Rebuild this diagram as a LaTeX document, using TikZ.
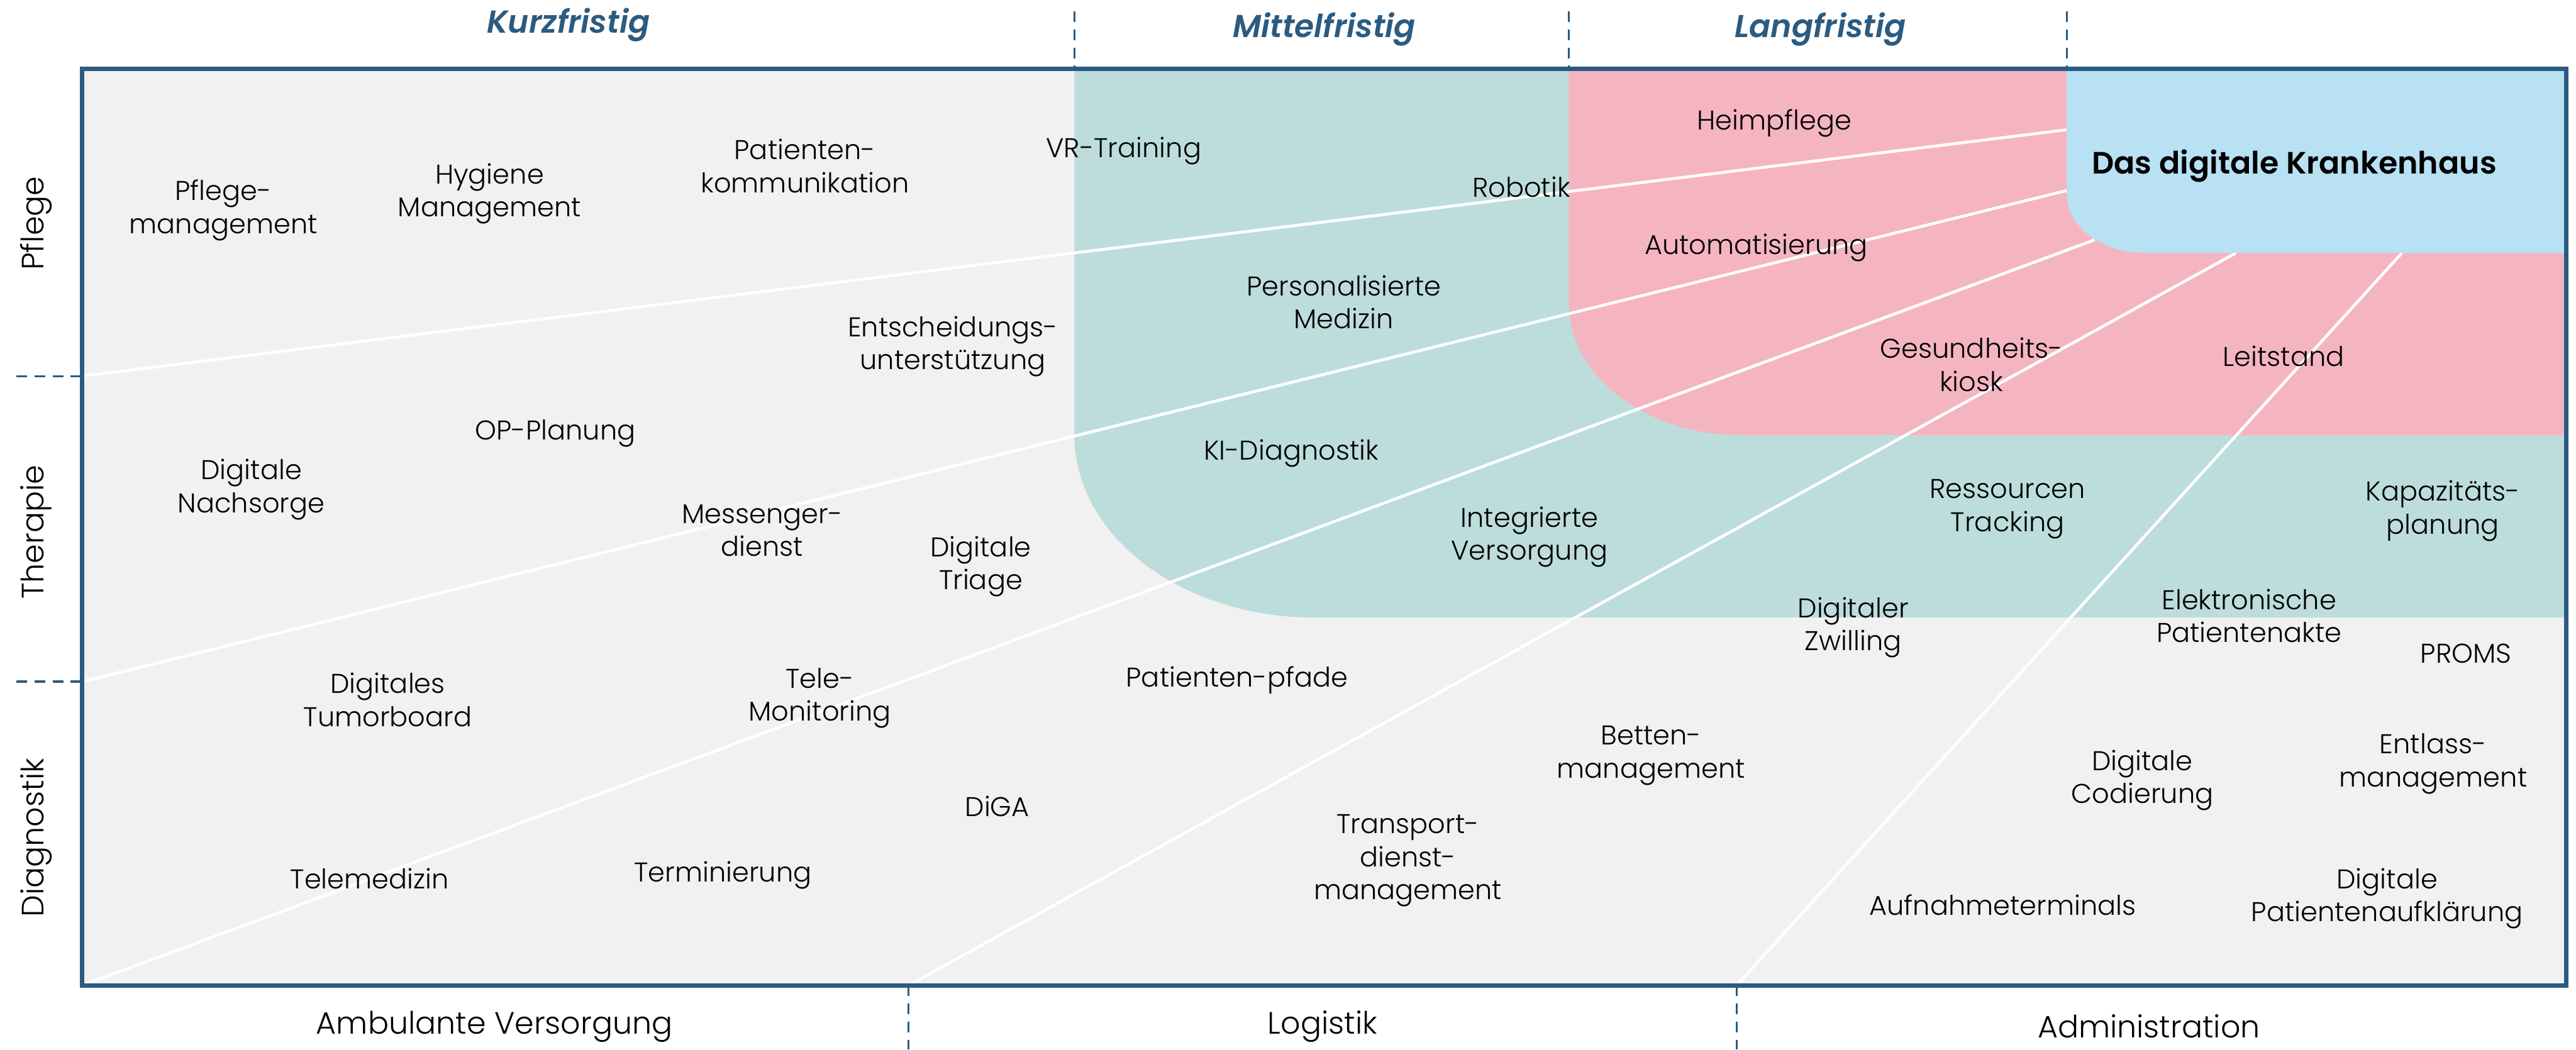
\documentclass[tikz,border=0pt]{standalone}
\usepackage{fontspec}
\IfFontExistsTF{Poppins Light}
  {\setmainfont{Poppins Light}[BoldFont={Poppins SemiBold},ItalicFont={Poppins Light Italic},BoldItalicFont={Poppins SemiBold Italic}]}
  {\setmainfont{Poppins}}
\definecolor{FrameBlue}{RGB}{43,91,128}
\definecolor{SoftGrey}{RGB}{241,241,241}
\definecolor{SoftTeal}{RGB}{189,221,220}
\definecolor{SoftPink}{RGB}{244,181,193}
\definecolor{SoftSky}{RGB}{184,225,243}

\begin{document}
\begin{tikzpicture}[x=0.02cm,y=-0.02cm,
		topic/.style={align=center,inner sep=0pt,font=\fontsize{9.4}{11.4}\selectfont},
		phase/.style={text=FrameBlue,font=\fontsize{11}{12}\selectfont\bfseries\itshape},
		axis/.style={font=\fontsize{10.7}{12}\selectfont},
		marker/.style={FrameBlue,line width=0.7pt,dash pattern=on 0.13cm off 0.09cm},
		ray/.style={white,line width=1pt}]
				
				\useasboundingbox (0,0) rectangle (1568,639);
				
				% areas
				\fill[SoftGrey] (50,42) rectangle (1562,600);
				\fill[SoftTeal] (654,42) -- (1562,42) -- (1562,376) -- (800,376)
				.. controls (719,376) and (654,326) .. (654,265) -- cycle;
				\fill[SoftPink] (955,42) -- (1562,42) -- (1562,265) -- (1060,265)
				.. controls (1002,265) and (955,229) .. (955,185) -- cycle;
				
				% anchor points of the rays
				\coordinate (B1) at (1258,79);
				\coordinate (B2) at (1258,116);
				\coordinate (B3) at (1275,146);
				\coordinate (B4) at (1361,154);
				\coordinate (B5) at (1462,154);
				\coordinate (L1) at (50,229);
				\coordinate (L2) at (50,415);
				\coordinate (L3) at (50,600);
				\coordinate (D1) at (553,600);
				\coordinate (D2) at (1057,600);
				
				\draw[ray] (B1) -- (L1);
				\draw[ray] (B2) -- (L2);
				\draw[ray] (B3) -- (L3);
				\draw[ray] (B4) -- (D1);
				\draw[ray] (B5) -- (D2);
				
				\fill[SoftSky] (1258,42) -- (1562,42) -- (1562,154) -- (1306,154)
				.. controls (1279,154) and (1258,138) .. (1258,118) -- cycle;
				
				\draw[FrameBlue,line width=1.6pt] (50,42) rectangle (1562,600);
				
				% dashed ticks
				\draw[marker] (10,229) -- (L1);
				\draw[marker] (10,415) -- (L2);
				\draw[marker] (654,7) -- (654,42);
				\draw[marker] (955,7) -- (955,42);
				\draw[marker] (1258,7) -- (1258,42);
				\draw[marker] (D1) -- (553,639);
				\draw[marker] (D2) -- (1057,639);
				
				% axes
				\node[phase] (KF) at (346,15) {Kurzfristig};
				\node[phase] (MF) at (806,18) {Mittelfristig};
				\node[phase] (LF) at (1108,18) {Langfristig};
				\node[axis,rotate=90] (PF) at (22,136) {Pflege};
				\node[axis,rotate=90] (TH) at (22,324) {Therapie};
				\node[axis,rotate=90] (DI) at (22,510) {Diagnostik};
				\node[axis] (AV) at (301,625) {Ambulante Versorgung};
				\node[axis] (LO) at (805,625) {Logistik};
				\node[axis] (AD) at (1308,625) {Administration};
				
				\node[font=\fontsize{10.7}{12}\selectfont\bfseries,anchor=west,inner sep=0pt] (DK) at (1273,101) {Das digitale Krankenhaus};
				
				% topics
				\node[topic] (PM) at (136,128) {Pflege-\\management};
				\node[topic] (HM) at (298,118) {Hygiene\\Management};
				\node[topic] (PK) at (490,101) {Patienten-\\kommunikation};
				\node[topic] (VR) at (684,92) {VR-Training};
				\node[topic] (RO) at (926,114) {Robotik};
				\node[topic] (HP) at (1080,75) {Heimpflege};
				\node[topic] (AU) at (1069,151) {Automatisierung};
				\node[topic] (PME) at (818,184) {Personalisierte\\Medizin};
				\node[topic] (EU) at (580,211) {Entscheidungs-\\unterstützung};
				\node[topic] (GK) at (1200,222) {Gesundheits-\\kiosk};
				\node[topic] (LS) at (1390,217) {Leitstand};
				\node[topic] (OP) at (338,264) {OP-Planung};
				\node[topic] (KI) at (786,276) {KI-Diagnostik};
				\node[topic] (DN) at (153,298) {Digitale\\Nachsorge};
				\node[topic] (MD) at (464,323) {Messenger-\\dienst};
				\node[topic] (DT) at (597,345) {Digitale\\Triage};
				\node[topic] (IV) at (931,327) {Integrierte\\Versorgung};
				\node[topic] (RT) at (1222,310) {Ressourcen\\Tracking};
				\node[topic] (KP) at (1487,311) {Kapazitäts-\\planung};
				\node[topic] (DZ) at (1128,382) {Digitaler\\Zwilling};
				\node[topic] (EPA) at (1369,375) {Elektronische\\Patientenakte};
				\node[topic] (PR) at (1501,398) {PROMS};
				\node[topic] (DTB) at (236,426) {Digitales\\Tumorboard};
				\node[topic] (TMO) at (499,425) {Tele-\\Monitoring};
				\node[topic] (PP) at (753,414) {Patienten-pfade};
				\node[topic] (BM) at (1005,460) {Betten-\\management};
				\node[topic] (DC) at (1304,475) {Digitale\\Codierung};
				\node[topic] (EM) at (1481,465) {Entlass-\\management};
				\node[topic] (DG) at (607,491) {DiGA};
				\node[topic] (TDM) at (857,524) {Transport-\\dienst-\\management};
				\node[topic] (TMZ) at (225,535) {Telemedizin};
				\node[topic] (TE) at (440,533) {Terminierung};
				\node[topic] (AT) at (1219,551) {Aufnahmeterminals};
				\node[topic] (DPA) at (1453,547) {Digitale\\Patientenaufklärung};
				
			\end{tikzpicture}
\end{document}
